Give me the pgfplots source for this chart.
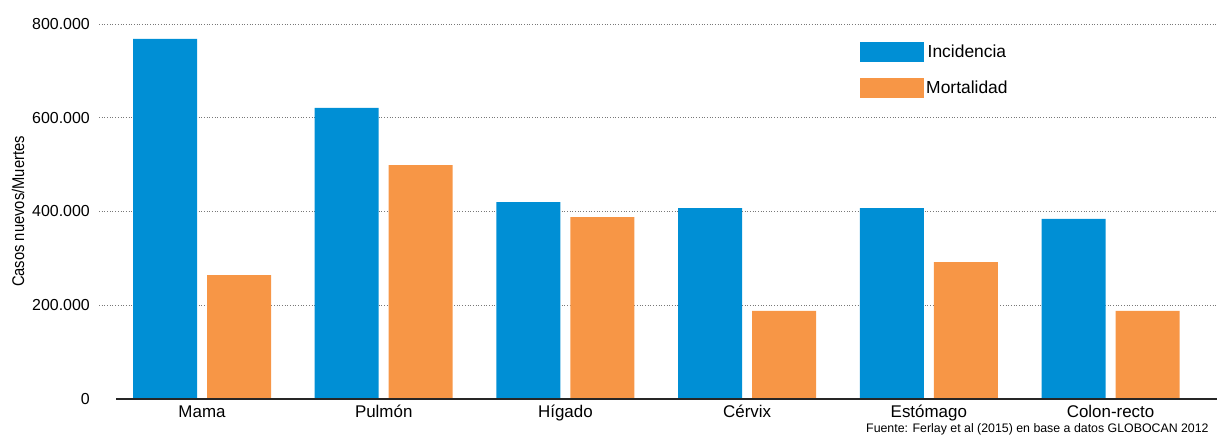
\documentclass[border=0pt]{standalone}
\usepackage{fontspec}
\setmainfont{Liberation Sans}
\newfontfamily\condfont[FakeStretch=0.87]{Liberation Sans}
\usepackage{pgfplots}
\pgfplotsset{compat=1.18}
\definecolor{incid}{RGB}{0,143,213}
\definecolor{mort}{RGB}{247,150,70}
\definecolor{gridgray}{RGB}{120,120,120}

\begin{document}
\begin{tikzpicture}
\begin{axis}[
  at={(99bp,37bp)}, anchor=south west,
  scale only axis, width=1118bp, height=375bp,
  xmin=-0.5669, xmax=5.586, ymin=0, ymax=800000,
  axis lines=left,
  axis line style={draw=none},
  tick style={draw=none},
  major tick length=0pt,
  scaled y ticks=false,
  xtick={0,1,2,3,4,5},
  xticklabels={Mama,Pulmón,Hígado,Cérvix,Estómago,Colon-recto},
  xticklabel style={font=\fontsize{17}{20}\selectfont, anchor=base, inner sep=0pt, yshift=-18.5bp},
  ytick={200000,400000,600000,800000},
  yticklabels={200.000,400.000,600.000,800.000},
  extra y ticks={0},
  extra y tick labels={0},
  extra y tick style={grid=none},
  yticklabel style={font=\fontsize{16}{19}\selectfont, anchor=east, inner sep=0pt, xshift=-9bp},
  ymajorgrids,
  grid style={gridgray, line width=0.6pt, dash pattern=on 0.9pt off 1.8pt},
  ylabel={\condfont Casos nuevos/Muertes},
  ylabel style={font=\fontsize{17}{20}\selectfont, at={(axis description cs:-0.0725,0.5)}, anchor=center, rotate=0},
  legend style={draw=none, fill=none, inner sep=0pt, at={(axis description cs:0.6807,0.952)}, anchor=north west,
    font=\fontsize{17.5}{20}\selectfont, row sep=16bp,
    nodes={inner sep=0pt},
    /tikz/every odd column/.append style={column sep=2bp}},
  clip=false,
]
\addplot[ybar, bar width=64bp, bar shift=-37bp, fill=incid, draw=none,
  legend image code/.code={\fill[incid] (0bp,-10bp) rectangle (64bp,10bp);}]
  coordinates {(0,768000) (1,621000) (2,420000) (3,407000) (4,407000) (5,384000)};
\addlegendentry{Incidencia}
\addplot[ybar, bar width=64bp, bar shift=37bp, fill=mort, draw=none,
  legend image code/.code={\fill[mort] (0bp,-10bp) rectangle (64bp,10bp);}]
  coordinates {(0,264500) (1,499000) (2,388000) (3,188000) (4,292000) (5,188000)};
\addlegendentry{Mortalidad}
\draw[black!85, line width=1.3pt] (axis cs:-0.4733,0) -- (axis cs:5.586,0);
\end{axis}
\node[anchor=base west, inner sep=0pt, font=\fontsize{12.4}{14}\selectfont] at (866bp,3.5bp)
  {Fuente: Ferlay et al (2015) en base a datos GLOBOCAN 2012};
\pgfresetboundingbox
\useasboundingbox (0bp,0bp) rectangle (1217bp,436bp);
\end{tikzpicture}
\end{document}
